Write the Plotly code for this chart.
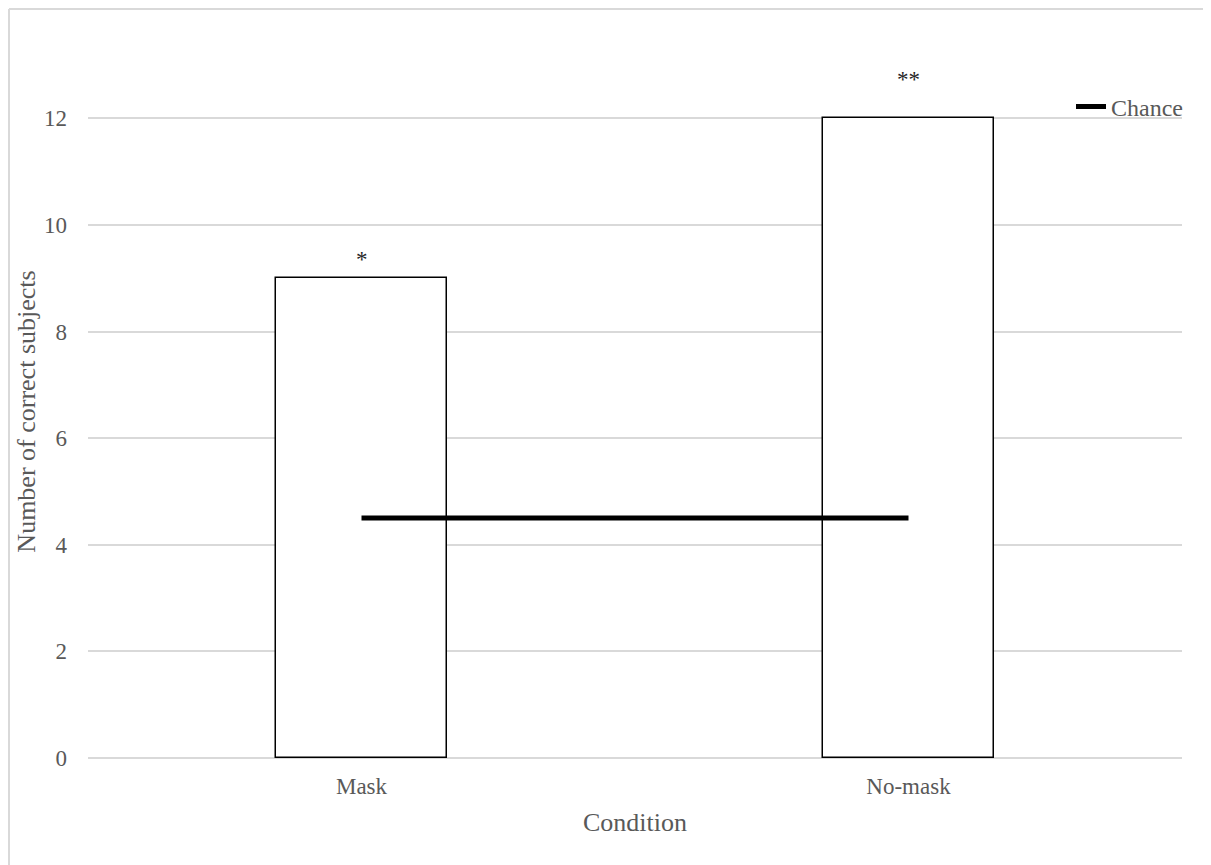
import plotly.graph_objects as go

categories = ["Mask", "No-mask"]
correct_subjects = [9, 12]
significance = ["*", "**"]
chance_level = [4.5, 4.5]
y_ticks = [0, 2, 4, 6, 8, 10, 12]

FONT = "Liberation Serif, serif"
GREY = "#595959"

# page has an 8px body margin: figure is sized/margined to land on the reference pixels
W, H = 1203, 857
ML, MR, MT, MB = 80, 29, 57, 107
PW, PH = W - ML - MR, H - MT - MB

fig = go.Figure()
fig.add_trace(go.Bar(
    x=categories, y=correct_subjects, width=0.3125,
    marker=dict(color="white", line=dict(color="black", width=1.5)),
    showlegend=False, hoverinfo="y",
))
fig.add_trace(go.Scatter(
    x=categories, y=chance_level, mode="lines", name="Chance",
    line=dict(color="black", width=5), showlegend=True,
))
for c, v, s in zip(categories, correct_subjects, significance):
    fig.add_annotation(x=c, y=v, text=s, showarrow=False, yanchor="bottom",
                       yshift=4 if len(s) == 1 else 24,
                       font=dict(family=FONT, size=23, color="#262626"))

# chart-area border: only top and left edges are visible in the reference
bx = (1 - ML) / PW
by = 1 + (MT - 1) / PH
fig.add_shape(type="line", xref="paper", yref="paper", x0=bx, x1=2, y0=by, y1=by,
              line=dict(color="#d9d9d9", width=2), layer="below")
fig.add_shape(type="line", xref="paper", yref="paper", x0=bx, x1=bx, y0=by, y1=-1,
              line=dict(color="#d9d9d9", width=2), layer="below")

fig.update_layout(
    width=W, height=H,
    margin=dict(l=ML, r=MR, t=MT, b=MB),
    paper_bgcolor="white", plot_bgcolor="white",
    font=dict(family=FONT, color=GREY, size=23),
    bargap=0,
    legend=dict(x=1.0 + 6 / PW, xanchor="right", y=1 - (107 - 65) / PH, yanchor="middle",
                font=dict(family=FONT, size=24, color=GREY),
                bgcolor="rgba(0,0,0,0)", borderwidth=0, itemwidth=30),
    xaxis=dict(title=dict(text="Condition", font=dict(family=FONT, size=26, color=GREY), standoff=14),
               showgrid=False, showline=False, ticks="", ticklabelstandoff=12,
               tickfont=dict(family=FONT, size=23, color=GREY)),
    yaxis=dict(title=dict(text="Number of correct subjects", font=dict(family=FONT, size=26, color=GREY), standoff=0),
               range=[0, 13], tickvals=y_ticks, showgrid=True, gridcolor="#d9d9d9", gridwidth=1.5,
               zeroline=True, zerolinecolor="#d9d9d9", zerolinewidth=1.5,
               showline=False, ticks="", ticklabelstandoff=20,
               tickfont=dict(family=FONT, size=23, color=GREY)),
)

fig.write_html("out.html")
